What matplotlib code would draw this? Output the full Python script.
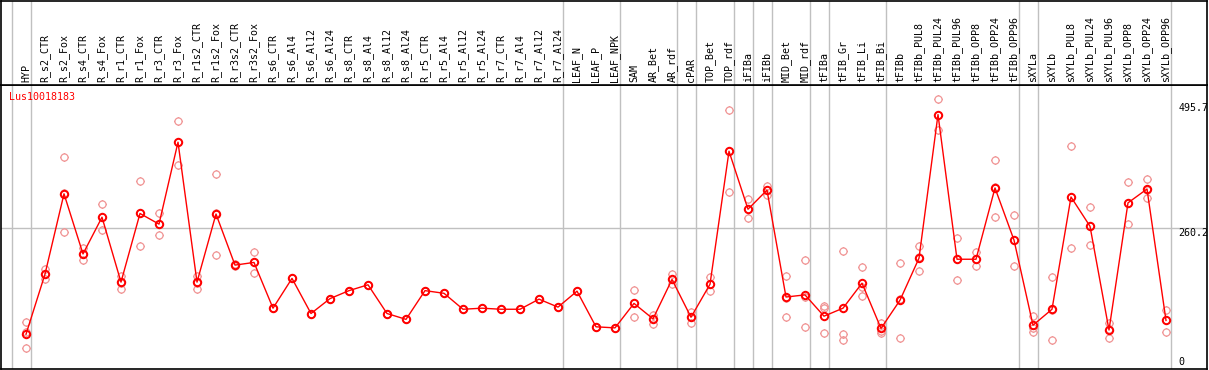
import matplotlib
matplotlib.use("Agg")
import matplotlib.pyplot as plt
import numpy as np
from matplotlib.path import Path

# sample labels (header)
samples = ["HYP", "R_s2_CTR", "R_s2_Fox", "R_s4_CTR", "R_s4_Fox", "R_r1_CTR", "R_r1_Fox",
           "R_r3_CTR", "R_r3_Fox", "R_r1s2_CTR", "R_r1s2_Fox", "R_r3s2_CTR", "R_r3s2_Fox",
           "R_s6_CTR", "R_s6_Al4", "R_s6_Al12", "R_s6_Al24", "R_s8_CTR", "R_s8_Al4",
           "R_s8_Al12", "R_s8_Al24", "R_r5_CTR", "R_r5_Al4", "R_r5_Al12", "R_r5_Al24",
           "R_r7_CTR", "R_r7_Al4", "R_r7_Al12", "R_r7_Al24", "LEAF_N", "LEAF_P", "LEAF_NPK",
           "SAM", "AR_Bet", "AR_rdf", "cPAR", "TOP_Bet", "TOP_rdf", "iFIBa", "iFIBb",
           "MID_Bet", "MID_rdf", "tFIBa", "tFIB_Gr", "tFIB_Li", "tFIB_Bi", "tFIBb",
           "tFIBb_PUL8", "tFIBb_PUL24", "tFIBb_PUL96", "tFIBb_OPP8", "tFIBb_OPP24",
           "tFIBb_OPP96", "sXYLa", "sXYLb", "sXYLb_PUL8", "sXYLb_PUL24", "sXYLb_PUL96",
           "sXYLb_OPP8", "sXYLb_OPP24", "sXYLb_OPP96"]

mean = [61, 174, 325, 212, 281, 159, 288, 268, 422, 159, 287, 191, 196,
        110, 166, 100, 128, 143, 154, 100, 89, 143, 138, 108, 110,
        108, 108, 127, 112, 142, 75, 73,
        119, 90, 164, 93, 155, 405, 296, 332,
        131, 135, 95, 110, 157, 72, 125,
        204, 474, 202, 202, 336, 238,
        78, 108, 319, 264, 69, 308, 334, 87]

rep1 = [84, 183, 394, 223, 306, 170, 350, 288, 462, 170, 362, 193, 215,
        110, 166, 100, 128, 143, 154, 100, 89, 143, 138, 108, 110,
        108, 108, 127, 112, 142, 75, 73,
        145, 98, 174, 103, 169, 482, 315, 340,
        170, 200, 115, 217, 187, 83, 195,
        227, 504, 241, 216, 388, 286,
        95, 169, 415, 300, 83, 347, 353, 107]
rep2 = [65, 174, 327, 212, 281, 158, 288, 268, 423, 158, 289, 191, 196,
        110, 166, 100, 128, 143, 154, 100, 89, 143, 138, 108, 110,
        108, 108, 127, 112, 142, 75, 73,
        119, 90, 164, 93, 156, 406, 296, 333,
        130, 131, 110, 62, 149, 68, 127,
        207, 474, 203, 202, 338, 239,
        72, 107, 319, 264, 70, 308, 332, 88]
rep3 = [35, 165, 253, 201, 257, 147, 227, 247, 380, 147, 210, 189, 177,
        110, 166, 100, 128, 143, 154, 100, 89, 143, 138, 108, 110,
        108, 108, 127, 112, 142, 75, 73,
        93, 81, 155, 83, 142, 328, 279, 323,
        93, 75, 63, 50, 133, 64, 54,
        179, 445, 163, 190, 281, 189,
        66, 50, 223, 229, 54, 268, 317, 65]

# group separators: drawn just after these column indices
sep_after = [-1, 0, 28, 31, 34, 35, 37, 38, 39, 41, 42, 45, 52, 53, 60]
gene = "Lus10018183"
hgrid = 260.2
ylabels = [495.7, 260.2, 0]

x = np.arange(len(samples))

# circle marker with four little ticks
circ = Path.unit_circle()
ticks = Path([(0, 1), (0, 1.25), (0, -1), (0, -1.25), (1, 0), (1.25, 0), (-1, 0), (-1.25, 0)],
             [Path.MOVETO, Path.LINETO] * 4)
mk = Path.make_compound_path(circ, ticks)

fig = plt.figure(figsize=(12.09, 3.70), dpi=100)
W, H = 1209, 370
ax = fig.add_axes([1 / W, 1 / H, 1206 / W, 284 / H])
hx = fig.add_axes([1 / W, 285 / H, 1206 / W, 84.5 / H], sharex=ax)

ax.set_xlim(-25 / 19, 1181 / 19)
ax.set_ylim(-4.3, 529.5)
hx.set_ylim(0, 1)
for a in (ax, hx):
    a.set_xticks([])
    a.set_yticks([])
    for s in a.spines.values():
        s.set_color("black")
        s.set_linewidth(1.2)
    for b in sep_after:
        a.axvline(b + 0.24, color="#c0c0c0", lw=1, zorder=0)

ax.axhline(hgrid, color="#c0c0c0", lw=1, zorder=0)

mono = "DejaVu Sans Mono"
for i, s in enumerate(samples):
    hx.text(i, 0.03, s, rotation=90, ha="center", va="bottom", fontsize=7.2, family=mono)

for r in (rep1, rep2, rep3):
    ax.plot(x, r, ls="none", marker=mk, ms=6.4, mfc="none", mec="#f09696", mew=0.9, zorder=2)
ax.plot(x, mean, color="red", lw=1, marker=mk, ms=6.6, mfc="none", mec="red", mew=1.4, zorder=3)

ax.text(0.0069, 0.957, gene, transform=ax.transAxes, color="red", fontsize=7.2,
        family=mono, ha="left", va="center")
for v in ylabels:
    ax.text(1152.5 / 19, v, f"{v:g}", fontsize=7.2, family=mono, ha="left",
            va="bottom" if v == 0 else "top")

fig.savefig("out.png", dpi=100)
